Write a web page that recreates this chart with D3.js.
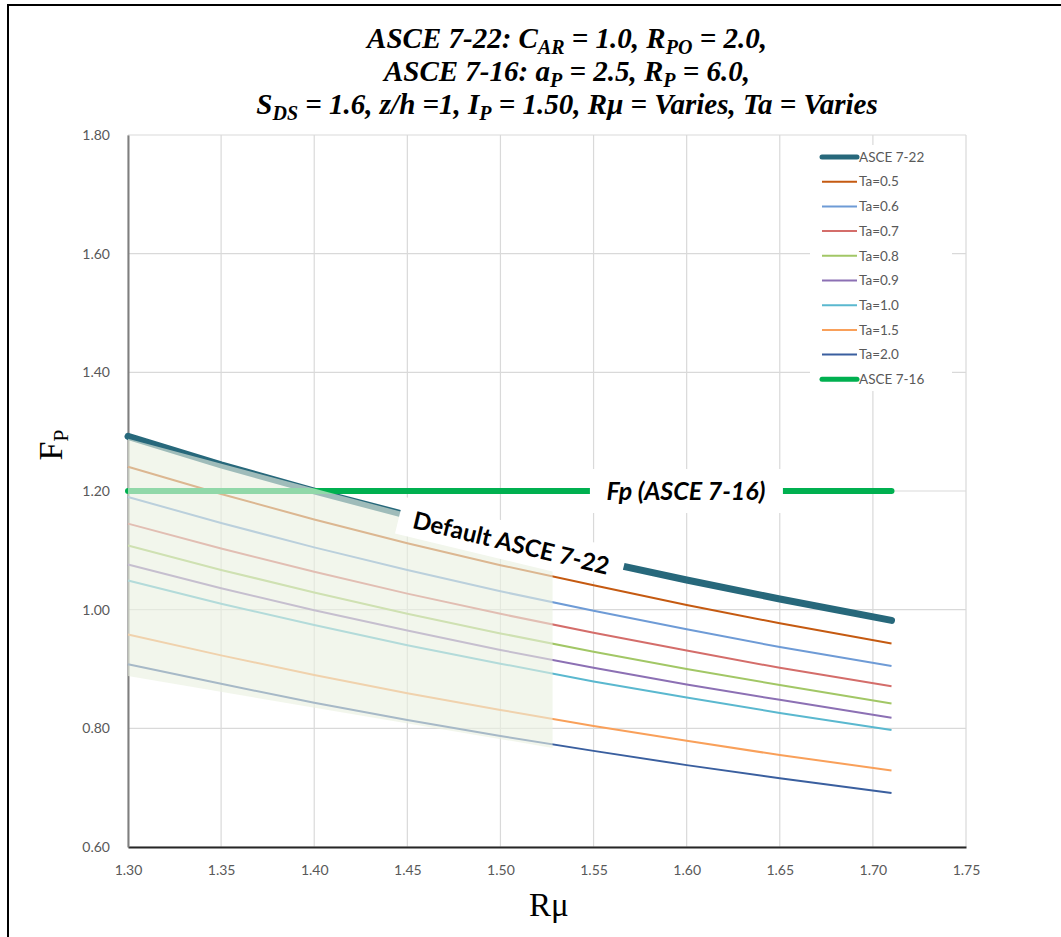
<!DOCTYPE html>
<html>
<head>
<meta charset="utf-8">
<script src="https://cdn.jsdelivr.net/npm/d3@7"></script>
<style>
	body { margin: 0; background: #fff; }
	svg { display: block; }
</style>
</head>
<body>
<svg id="chart" width="1061" height="937"></svg>
<script>
// Rmu values where each curve was read
var rmu = [1.30, 1.35, 1.40, 1.45, 1.50, 1.55, 1.60, 1.65, 1.71];

var asce722 = [1.292, 1.244, 1.200, 1.159, 1.120, 1.084, 1.050, 1.018, 0.982];
var ta05 = [1.241, 1.195, 1.152, 1.112, 1.075, 1.041, 1.008, 0.977, 0.943];
var ta06 = [1.190, 1.146, 1.105, 1.067, 1.031, 0.998, 0.967, 0.937, 0.905];
var ta07 = [1.145, 1.103, 1.064, 1.027, 0.993, 0.961, 0.931, 0.902, 0.871];
var ta08 = [1.108, 1.067, 1.029, 0.993, 0.960, 0.929, 0.900, 0.873, 0.842];
var ta09 = [1.076, 1.036, 0.999, 0.965, 0.932, 0.902, 0.874, 0.848, 0.818];
var ta10 = [1.049, 1.010, 0.974, 0.940, 0.909, 0.879, 0.852, 0.826, 0.797];
var ta15 = [0.958, 0.923, 0.890, 0.859, 0.831, 0.804, 0.779, 0.755, 0.729];
var ta20 = [0.908, 0.875, 0.843, 0.814, 0.787, 0.762, 0.738, 0.716, 0.691];
var asce716 = [1.20, 1.20, 1.20, 1.20, 1.20, 1.20, 1.20, 1.20, 1.20];

// shaded zone (Rmu, Fp corners)
var shadeX = [1.30, 1.528, 1.528, 1.30];
var shadeY = [1.288, 1.097, 0.767, 0.888];

var xTicks = [1.30, 1.35, 1.40, 1.45, 1.50, 1.55, 1.60, 1.65, 1.70, 1.75];
var yTicks = [0.60, 0.80, 1.00, 1.20, 1.40, 1.60, 1.80];

var series = [
	{ name: "ASCE 7-22", values: asce722, color: "#27687b", width: 7, legendWidth: 5 },
	{ name: "Ta=0.5", values: ta05, color: "#c55a11", width: 2, legendWidth: 2 },
	{ name: "Ta=0.6", values: ta06, color: "#6e9bd6", width: 2, legendWidth: 2 },
	{ name: "Ta=0.7", values: ta07, color: "#d46d6a", width: 2, legendWidth: 2 },
	{ name: "Ta=0.8", values: ta08, color: "#a2c766", width: 2, legendWidth: 2 },
	{ name: "Ta=0.9", values: ta09, color: "#8c70b4", width: 2, legendWidth: 2 },
	{ name: "Ta=1.0", values: ta10, color: "#5ab8cf", width: 2, legendWidth: 2 },
	{ name: "Ta=1.5", values: ta15, color: "#f9a05a", width: 2, legendWidth: 2 },
	{ name: "Ta=2.0", values: ta20, color: "#3a5f9f", width: 2, legendWidth: 2 },
	{ name: "ASCE 7-16", values: asce716, color: "#00b050", width: 6, legendWidth: 5 }
];

(function () {
	"use strict";
	var svg = d3.select("#chart");
	var plotLeft = 128, plotRight = 966, plotTop = 135, plotBottom = 847;

	var xScale = d3.scaleLinear().domain([1.30, 1.75]).range([plotLeft, plotRight]);
	var yScale = d3.scaleLinear().domain([0.60, 1.80]).range([plotBottom, plotTop]);

	// outer frame
	svg.append("path")
		.attr("d", "M8,937 L8,5 L1061,5")
		.attr("fill", "none")
		.attr("stroke", "#000")
		.attr("stroke-width", 2);

	// gridlines
	var grid = svg.append("g").attr("class", "grid");
	grid.selectAll(".grid-x").data(xTicks).enter()
		.append("line")
		.attr("class", "grid-x")
		.attr("x1", function (d) { return xScale(d); })
		.attr("x2", function (d) { return xScale(d); })
		.attr("y1", plotTop)
		.attr("y2", plotBottom)
		.style("stroke", "#d9d9d9")
		.style("stroke-width", 1.2);
	grid.selectAll(".grid-y").data(yTicks).enter()
		.append("line")
		.attr("class", "grid-y")
		.attr("x1", plotLeft)
		.attr("x2", plotRight)
		.attr("y1", function (d) { return yScale(d); })
		.attr("y2", function (d) { return yScale(d); })
		.style("stroke", "#d9d9d9")
		.style("stroke-width", 1.2);

	// axes
	var xAxis = d3.axisBottom(xScale).tickValues(xTicks).tickSize(0).tickPadding(18)
		.tickFormat(d3.format(".2f"));
	var yAxis = d3.axisLeft(yScale).tickValues(yTicks).tickSize(0).tickPadding(18)
		.tickFormat(d3.format(".2f"));

	var gx = svg.append("g").attr("transform", "translate(0," + plotBottom + ")").call(xAxis);
	var gy = svg.append("g").attr("transform", "translate(" + plotLeft + ",0)").call(yAxis);
	gx.select(".domain").attr("stroke", "#262626").attr("stroke-width", 2);
	gy.select(".domain").attr("stroke", "#7f7f7f").attr("stroke-width", 2);
	svg.selectAll(".tick text")
		.style("font-family", "Lato, 'Liberation Sans', sans-serif")
		.style("font-size", "14px")
		.style("fill", "#595959");

	// series lines
	var line = d3.line()
		.x(function (d, i) { return xScale(rmu[i]); })
		.y(function (d) { return yScale(d); });

	var order = series.slice(1, 9).concat([series[0], series[9]]);
	svg.append("g").selectAll("path").data(order).enter()
		.append("path")
		.attr("d", function (d) { return line(d.values); })
		.attr("fill", "none")
		.attr("stroke", function (d) { return d.color; })
		.attr("stroke-width", function (d) { return d.width; })
		.attr("stroke-linecap", function (d) { return d.width > 3 ? "round" : "butt"; });

	// shaded zone laid over the lines
	var shadePts = shadeX.map(function (x, i) { return [xScale(x), yScale(shadeY[i])]; });
	svg.append("polygon")
		.attr("points", shadePts.map(function (p) { return p.join(","); }).join(" "))
		.attr("fill", "#eaf0e0")
		.attr("fill-opacity", 0.62);

	// annotation: Fp (ASCE 7-16)
	var fpLabel = svg.append("g").attr("transform", "translate(" + xScale(1.5996) + "," + yScale(1.20) + ")");
	fpLabel.append("rect")
		.attr("x", -96).attr("y", -22).attr("width", 193).attr("height", 44)
		.attr("fill", "#fff");
	fpLabel.append("text")
		.attr("text-anchor", "middle")
		.attr("dy", "0.35em")
		.style("font-family", "Lato, 'Open Sans', sans-serif")
		.style("font-weight", "bold")
		.style("font-style", "italic")
		.style("font-size", "25px")
		.style("fill", "#000")
		.text("Fp (ASCE 7-16)");

	// annotation: Default ASCE 7-22, laid along the 7-22 line
	var angle = Math.atan2(yScale(asce722[8]) - yScale(asce722[0]), xScale(rmu[8]) - xScale(rmu[0])) * 180 / Math.PI;
	var defLabel = svg.append("g")
		.attr("transform", "translate(" + xScale(1.5057) + "," + (yScale(1.1157) + 2) + ") rotate(" + angle + ")");
	defLabel.append("rect")
		.attr("x", -115).attr("y", -20).attr("width", 230).attr("height", 38)
		.attr("fill", "#fff");
	defLabel.append("text")
		.attr("text-anchor", "middle")
		.attr("dy", "0.35em")
		.style("font-family", "Lato, 'Open Sans', sans-serif")
		.style("font-weight", "bold")
		.style("font-size", "24px")
		.style("fill", "#000")
		.text("Default ASCE 7-22");

	// legend
	var legend = svg.append("g").attr("transform", "translate(810,145)");
	legend.append("rect")
		.attr("width", 142).attr("height", 246)
		.attr("fill", "#fff");
	var item = legend.selectAll(".item").data(series).enter()
		.append("g")
		.attr("class", "item")
		.attr("transform", function (d, i) { return "translate(0," + (12 + i * 24.7) + ")"; });
	item.append("line")
		.attr("x1", 12).attr("x2", 47)
		.attr("stroke", function (d) { return d.color; })
		.attr("stroke-width", function (d) { return d.legendWidth; })
		.attr("stroke-linecap", function (d) { return d.legendWidth > 3 ? "round" : "butt"; });
	item.append("text")
		.attr("x", 49)
		.attr("dy", "0.35em")
		.style("font-family", "Lato, 'Liberation Sans', sans-serif")
		.style("font-size", "13.5px")
		.style("fill", "#595959")
		.text(function (d) { return d.name; });

	// title
	var title = svg.append("text")
		.attr("text-anchor", "middle")
		.style("font-family", "'Liberation Serif', 'Times New Roman', serif")
		.style("font-weight", "bold")
		.style("font-style", "italic")
		.style("font-size", "29px")
		.style("fill", "#000");

	function titleLine(y, parts) {
		var t = title.append("tspan").attr("x", 567).attr("y", y);
		parts.forEach(function (p) {
			if (typeof p === "string") {
				t.append("tspan").text(p);
			} else {
				t.append("tspan").attr("dy", 6).style("font-size", "20px").text(p.sub);
				t.append("tspan").attr("dy", -6).text(" ");
			}
		});
	}
	titleLine(48, ["ASCE 7-22: C", { sub: "AR" }, "= 1.0, R", { sub: "PO" }, "= 2.0,"]);
	titleLine(81, ["ASCE 7-16: a", { sub: "P" }, "= 2.5, R", { sub: "P" }, "= 6.0,"]);
	titleLine(114, ["S", { sub: "DS" }, "= 1.6, z/h =1, I", { sub: "P" }, "= 1.50, R\u03bc = Varies, Ta = Varies"]);

	// axis titles
	svg.append("text")
		.attr("x", xScale(1.526))
		.attr("y", 916)
		.attr("text-anchor", "middle")
		.style("font-family", "'Liberation Serif', 'Times New Roman', serif")
		.style("font-size", "33px")
		.style("fill", "#000")
		.text("R\u03bc");

	var yTitle = svg.append("text")
		.attr("transform", "translate(62,445) rotate(-90)")
		.attr("text-anchor", "middle")
		.style("font-family", "'Liberation Serif', 'Times New Roman', serif")
		.style("font-size", "34px")
		.style("fill", "#000");
	yTitle.append("tspan").text("F");
	yTitle.append("tspan").attr("dy", 6).style("font-size", "22px").text("P");
})();
</script>
</body>
</html>
